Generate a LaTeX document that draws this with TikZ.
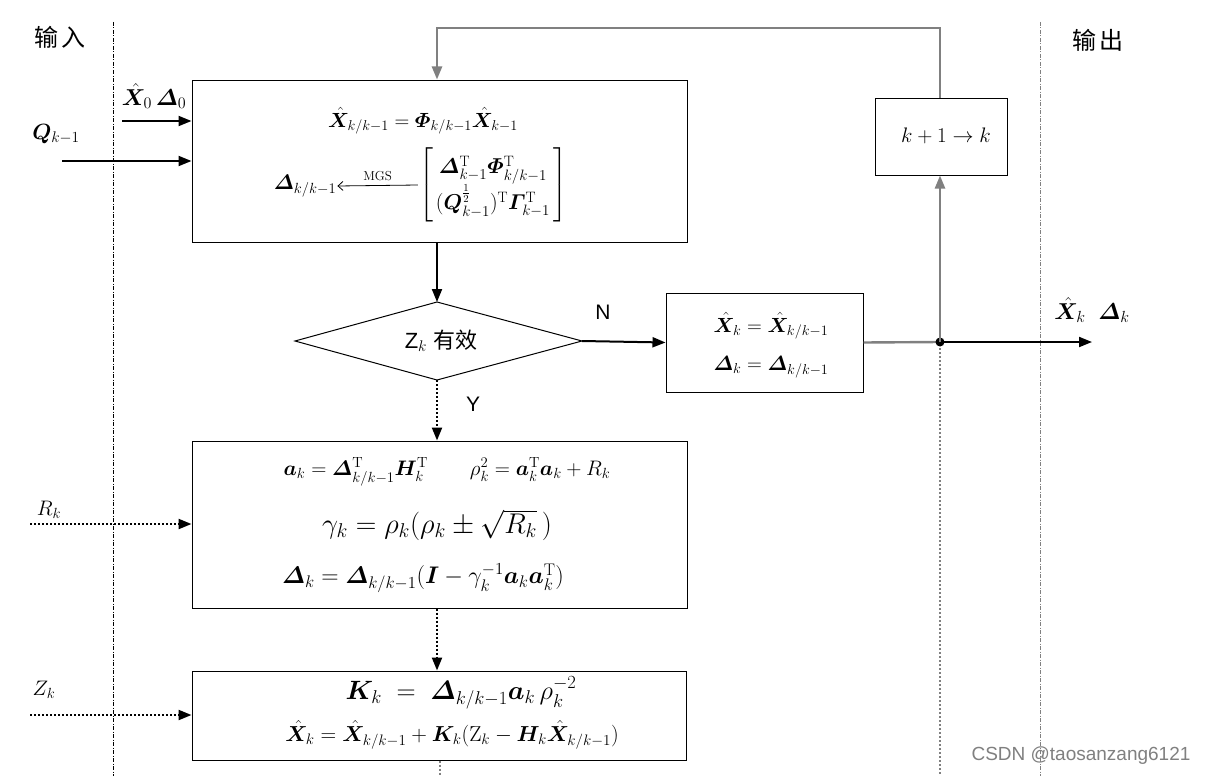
\RequirePackage{fix-cm}
\documentclass[tikz,border=0pt]{standalone}
\usepackage{amsmath}
\usepackage{bm}
\usepackage{fontspec}
\setsansfont{Liberation Sans}
\newfontfamily\cjk{Noto Sans CJK SC}
\usetikzlibrary{arrows.meta}
\definecolor{lgray}{HTML}{808080}
\begin{document}
\begin{tikzpicture}[x=1pt,y=-1pt,
  boxst/.style={draw,line width=1pt,inner sep=0pt},
  tip/.style={-{Triangle[length=13pt,width=10pt]}},
  solidarr/.style={tip,line width=2pt},
  dotarr/.style={tip,line width=2.2pt,dash pattern=on 2pt off 2pt},
  grayln/.style={draw=lgray,line width=2.4pt},
  sep/.style={line width=0.8pt,dash pattern=on 4pt off 1.5pt on 1pt off 1.5pt},
  fs/.style={font=\fontsize{#1}{#1}\selectfont}]
\useasboundingbox (0,0) rectangle (1207,776);
\fill[white] (0,0) rectangle (1207,776);
% separators
\draw[sep] (113,22) -- (113,776);
\draw[sep,lgray] (1040,22) -- (1040,776);
\node (inlab) at (60,37) {\cjk\fontsize{24}{26}\selectfont 输\,入};
\node (outlab) at (1098,40) {\cjk\fontsize{24}{26}\selectfont 输\,出};
% box 1
\node[boxst,minimum width=495pt,minimum height=162pt] (b1) at (439.5,161) {};
\node[fs=20.5] (b1l1) at (423,121) {$\hat{\bm X}_{k/k-1}=\bm\varPhi_{k/k-1}\hat{\bm X}_{k-1}$};
\node[fs=21,inner sep=1pt] (dkk) at (305,186) {$\bm\varDelta_{k/k-1}$};
\node[fs=21.5,inner sep=1pt] (mat) at (493,185) {$\renewcommand{\arraystretch}{1.6}\begin{bmatrix}\;\bm\varDelta_{k-1}^{\mathrm T}\bm\varPhi_{k/k-1}^{\mathrm T}\;\\(\bm Q_{k-1}^{\frac12})^{\mathrm T}\bm\varGamma_{k-1}^{\mathrm T}\end{bmatrix}$};
\draw[line width=0.8pt,-{Straight Barb[length=5pt,width=9pt]}] (mat.west) -- (dkk.east) node[midway,above,fs=13,yshift=1pt] {MGS};
% diamond
\coordinate (dtop) at (437,302);
\coordinate (dbot) at (437,380);
\coordinate (dleft) at (295,341);
\coordinate (dright) at (582,341);
\draw[line width=1pt] (dtop) -- (dright) -- (dbot) -- (dleft) -- cycle;
\node (dtxt) at (441,341) {\fontsize{22}{24}\selectfont\sffamily Z$_{k}$ \cjk 有效};
% box 2
\node[boxst,minimum width=197pt,minimum height=99pt] (b2) at (764.5,342.5) {};
\node[fs=20.5] (b2l1) at (771,326) {$\hat{\bm X}_k=\hat{\bm X}_{k/k-1}$};
\node[fs=20.5] (b2l2) at (771,367) {$\bm\varDelta_k=\bm\varDelta_{k/k-1}$};
% box k+1
\node[boxst,minimum width=132pt,minimum height=77pt] (b5) at (941,136.5) {};
\node[fs=21] (b5t) at (946,136) {$k+1\rightarrow k$};
% box 3
\node[boxst,minimum width=495pt,minimum height=167pt] (b3) at (439.5,524.5) {};
\node[fs=21] (b3l1) at (447,472) {$\bm a_k=\bm\varDelta_{k/k-1}^{\mathrm T}\bm H_k^{\mathrm T}\qquad\rho_k^2=\bm a_k^{\mathrm T}\bm a_k+R_k$};
\node[fs=28.5] (b3l2) at (437,525) {$\gamma_k=\rho_k(\rho_k\pm\sqrt{R_k}\,)$};
\node[fs=24] (b3l3) at (423,578) {$\bm\varDelta_k=\bm\varDelta_{k/k-1}(\bm I-\gamma_k^{-1}\bm a_k\bm a_k^{\mathrm T})$};
% box 4
\node[boxst,minimum width=494pt,minimum height=89pt] (b4) at (439,715.5) {};
\node[fs=26.5] (b4l1) at (461,693) {$\bm K_k\;=\;\bm\varDelta_{k/k-1}\bm a_k\,\rho_k^{-2}$};
\node[fs=21.7] (b4l2) at (452,735) {$\hat{\bm X}_k=\hat{\bm X}_{k/k-1}+\bm K_k(\mathrm Z_k-\bm H_k\hat{\bm X}_{k/k-1})$};
% inputs
\node[fs=23] (x0lab) at (154,96) {$\hat{\bm X}_0\,\bm\varDelta_0$};
\coordinate (x0s) at (122,121);
\draw[solidarr] (x0s) -- (b1.west |- x0s);
\node[fs=22] (qlab) at (56,134) {$\bm Q_{k-1}$};
\coordinate (qs) at (62,161);
\draw[solidarr] (qs) -- (b1.west |- qs);
\node[fs=21] (rlab) at (49,510) {$R_k$};
\coordinate (rs) at (30,524);
\draw[dotarr] (rs) -- (b3.west |- rs);
\node[fs=21] (zlab) at (44,690) {$Z_k$};
\coordinate (zs) at (30,715);
\draw[dotarr] (zs) -- (b4.west |- zs);
% main flow
\draw[solidarr] (b1.south -| dtop) -- (dtop);
\draw[dotarr] (dbot) -- (b3.north -| dbot);
\node[font=\fontsize{21}{22}\selectfont\sffamily] (ylab) at (473,404) {Y};
\draw[dotarr] (b3.south -| dbot) -- (b4.north -| dbot);
\draw[lgray,line width=2.2pt,dash pattern=on 2pt off 2pt] (b4.south -| 440,0) -- (440,776);
\draw[solidarr] (dright) -- (b2.west);
\node[font=\fontsize{21}{22}\selectfont\sffamily] (nlab) at (603,312) {N};
% output
\coordinate (junc) at (940,342);
\draw[grayln] (b2.east) -- (junc);
\coordinate (oend) at (1092,342);
\draw[solidarr] (junc) -- (oend);
\fill (junc) circle (4.5pt);
\node[fs=23] (olab) at (1092,310) {$\hat{\bm X}_k\;\;\bm\varDelta_k$};
\draw[grayln,-{Triangle[length=13pt,width=10pt]}] (junc) -- (b5.south -| junc);
\draw[lgray,line width=2.2pt,dash pattern=on 2pt off 2pt] (junc) ++(0,6) -- (940,776);
% feedback
\coordinate (fb1) at (940,28);
\coordinate (fb2) at (437,28);
\draw[grayln,-{Triangle[length=13pt,width=10pt]}] (b5.north -| junc) -- (fb1) -- (fb2) -- (b1.north -| fb2);
% watermark
\node[lgray,font=\fontsize{19}{20}\selectfont\sffamily] (wm) at (1081,756) {CSDN @taosanzang6121};
\end{tikzpicture}
\end{document}
